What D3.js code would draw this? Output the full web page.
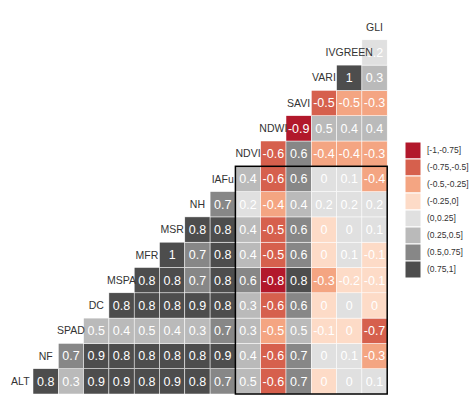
<!DOCTYPE html>
<html>
<head>
<meta charset="utf-8">
<script src="https://cdn.jsdelivr.net/npm/d3@7"></script>
<style>
  body { margin: 0; background: #fff; }
  text { font-family: "Liberation Sans", Arial, sans-serif; }
</style>
</head>
<body>
<div id="chart-area"></div>
<script>
// variables, in the order they sit on the diagonal (bottom-left to top-right)
var vars = ["ALT", "NF", "SPAD", "DC", "MSPA", "MFR", "MSR", "NH", "IAFu",
            "NDVI", "NDWI", "SAVI", "VARI", "IVGREEN", "GLI"];

// each row: correlation of that variable with every variable after it
var ALT     = [0.78, 0.34, 0.86, 0.88, 0.81, 0.87, 0.79, 0.71, 0.48, -0.6, 0.68, -0.02, 0.02, 0.07];
var NF      = [0.68, 0.88, 0.82, 0.8, 0.83, 0.79, 0.86, 0.42, -0.61, 0.69, 0.02, 0.09, -0.32];
var SPAD    = [0.48, 0.42, 0.47, 0.39, 0.31, 0.66, 0.29, -0.48, 0.49, -0.08, -0.03, -0.68];
var DC      = [0.81, 0.79, 0.82, 0.87, 0.8, 0.33, -0.58, 0.59, -0.03, 0.02, -0.02];
var MSPA    = [0.82, 0.8, 0.72, 0.79, 0.6, -0.8, 0.78, -0.31, -0.18, -0.12];
var MFR     = [0.96, 0.69, 0.78, 0.41, -0.52, 0.6, -0.03, 0.08, -0.07];
var MSR     = [0.8, 0.77, 0.42, -0.53, 0.62, -0.02, 0.03, 0.06];
var NH      = [0.67, 0.21, -0.43, 0.4, 0.19, 0.18, 0.22];
var IAFu    = [0.44, -0.62, 0.61, 0.03, 0.08, -0.38];
var NDVI    = [-0.63, 0.6, -0.42, -0.38, -0.33];
var NDWI    = [-0.88, 0.47, 0.4, 0.38];
var SAVI    = [-0.52, -0.46, -0.3];
var VARI    = [0.98, 0.31];
var IVGREEN = [0.2];

var rowsData = [ALT, NF, SPAD, DC, MSPA, MFR, MSR, NH, IAFu, NDVI, NDWI, SAVI, VARI, IVGREEN];

// legend bins
var binLabels = ["[-1,-0.75]", "(-0.75,-0.5]", "(-0.5,-0.25]", "(-0.25,0]",
                 "(0,0.25]", "(0.25,0.5]", "(0.5,0.75]", "(0.75,1]"];
var binBreaks = [-0.75, -0.5, -0.25, 0, 0.25, 0.5, 0.75];
var binColors = ["#b2182b", "#d6604d", "#f4a582", "#fddbc7",
                 "#e0e0e0", "#bababa", "#878787", "#4d4d4d"];

// the highlighted block
var boxCols = ["NDVI", "GLI"];
var boxRows = ["IAFu", "ALT"];

var width = 473, height = 398;
var cell = 25.3;
var gridLeft = 33 - cell, gridBottom = 394;

var svg = d3.select("#chart-area").append("svg")
    .attr("width", width)
    .attr("height", height);

var x = d3.scaleBand().domain(vars)
    .range([gridLeft, gridLeft + vars.length * cell]);
var y = d3.scaleBand().domain(vars.slice().reverse())
    .range([gridBottom - vars.length * cell, gridBottom]);

var fill = d3.scaleThreshold().domain(binBreaks).range(binColors);

// flatten to tiles
var tiles = [];
rowsData.forEach((vals, i) => {
    vals.forEach((v, k) => {
        tiles.push({ row: vars[i], col: vars[i + k + 1], value: v });
    });
});

function fmt(v) {
    var r = Math.round(v * 10) / 10;
    if (r === 0) return "0";
    return String(r);
}

svg.selectAll("rect.tile")
    .data(tiles)
  .enter().append("rect")
    .attr("class", "tile")
    .attr("x", (d) => x(d.col))
    .attr("y", (d) => y(d.row))
    .attr("width", x.bandwidth())
    .attr("height", y.bandwidth())
    .attr("fill", (d) => fill(d.value))
    .attr("stroke", "#fff")
    .attr("stroke-width", 0.5);

svg.selectAll("text.val")
    .data(tiles)
  .enter().append("text")
    .attr("class", "val")
    .attr("x", (d) => x(d.col) + x.bandwidth() / 2)
    .attr("y", (d) => y(d.row) + y.bandwidth() / 2)
    .attr("dy", "0.35em")
    .attr("text-anchor", "middle")
    .style("font-size", "12.5px")
    .attr("fill", "#fff")
    .text((d) => fmt(d.value));

// diagonal labels
svg.selectAll("text.diag")
    .data(vars)
  .enter().append("text")
    .attr("class", "diag")
    .attr("x", (d) => x(d) + x.bandwidth() / 2)
    .attr("y", (d) => y(d) + y.bandwidth() / 2)
    .attr("dy", "0.35em")
    .attr("text-anchor", "middle")
    .style("font-size", "10.5px")
    .attr("fill", "#333")
    .text((d) => d);

// black box around the vegetation-index block
svg.append("rect")
    .attr("x", x(boxCols[0]))
    .attr("y", y(boxRows[0]))
    .attr("width", x(boxCols[1]) + x.bandwidth() - x(boxCols[0]))
    .attr("height", y(boxRows[1]) + y.bandwidth() - y(boxRows[0]))
    .attr("fill", "none")
    .attr("stroke", "#000")
    .attr("stroke-width", 1.5);

// legend
var key = 17;
var legend = svg.append("g")
    .attr("transform", "translate(405, 142)");

var ly = d3.scaleBand().domain(binLabels).range([0, binLabels.length * key]);

legend.selectAll("rect")
    .data(binLabels)
  .enter().append("rect")
    .attr("x", 0)
    .attr("y", (d) => ly(d))
    .attr("width", 16)
    .attr("height", ly.bandwidth())
    .attr("fill", (d, i) => binColors[i])
    .attr("stroke", "#fff")
    .attr("stroke-width", 1);

legend.selectAll("text")
    .data(binLabels)
  .enter().append("text")
    .attr("x", 22)
    .attr("y", (d) => ly(d) + ly.bandwidth() / 2)
    .attr("dy", "0.35em")
    .style("font-size", "8.5px")
    .attr("fill", "#333")
    .text((d) => d);
</script>
</body>
</html>
